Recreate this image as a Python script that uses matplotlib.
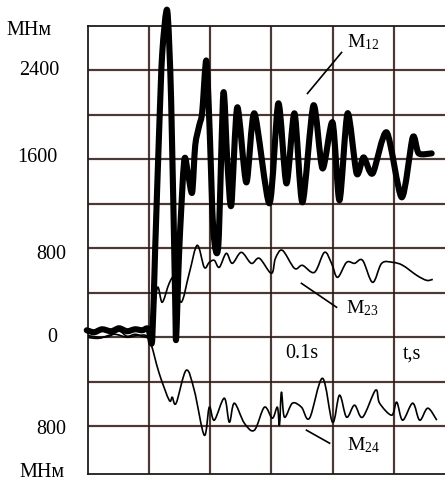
import matplotlib
matplotlib.use("Agg")
import matplotlib.pyplot as plt
import numpy as np
from matplotlib.path import Path
from matplotlib.patches import PathPatch

plt.rcParams['font.family'] = ['Liberation Serif', 'DejaVu Serif']
plt.rcParams['mathtext.fontset'] = 'custom'
plt.rcParams['mathtext.rm'] = 'Liberation Serif'
plt.rcParams['mathtext.it'] = 'Liberation Serif'

# ── Data (time in s, torque in MNm) ──────────────────────────────────────────
t12 = [-0.051, -0.045, -0.0385, -0.031, -0.0246, -0.018, -0.0115, -0.0057, -0.0016,
       0.0, 0.0025, 0.0049, 0.0082, 0.0107, 0.0148, 0.018, 0.0213, 0.0221, 0.0246,
       0.0287, 0.032, 0.0352, 0.0377, 0.041, 0.0434, 0.0467, 0.0492, 0.0525, 0.0566,
       0.0607, 0.0639, 0.0672, 0.0721, 0.0795, 0.0861, 0.0984, 0.1057, 0.1123, 0.1189,
       0.1254, 0.1344, 0.1418, 0.15, 0.1557, 0.1623, 0.1697, 0.1754, 0.1828, 0.1943,
       0.2066, 0.2156, 0.2205, 0.2311]
m12 = [63, 45, 72, 54, 81, 54, 72, 63, 81,
       54, -27, 782, 1861, 2553, 2940, 2131, 333, -9, 782,
       1591, 1456, 1303, 1726, 1906, 2023, 2490, 1951, 962, 827,
       2193, 1591, 1187, 2068, 1393, 2014, 1205, 2104, 1384, 2014,
       1214, 2086, 1519, 1933, 1232, 2014, 1474, 1618, 1474, 1843,
       1259, 1798, 1654, 1654]

t23 = [-0.051, -0.041, -0.0328, -0.0246, -0.018, -0.0115, -0.0057, 0.0, 0.0016,
       0.0066, 0.0107, 0.0164, 0.0205, 0.0262, 0.0328, 0.0393, 0.0451, 0.0492,
       0.0533, 0.0574, 0.0631, 0.068, 0.0754, 0.0836, 0.0902, 0.1, 0.1033, 0.109,
       0.1189, 0.1254, 0.1352, 0.1434, 0.1492, 0.1541, 0.1615, 0.168, 0.1746,
       0.1828, 0.1902, 0.1992, 0.2074, 0.2189, 0.227, 0.232]
m23 = [18, 0, 9, 54, 9, 27, 9, -9, -27,
       441, 315, 485, 530, 315, 575, 827, 629, 674,
       692, 629, 755, 665, 764, 665, 710, 575, 710, 782,
       620, 647, 584, 764, 665, 539, 674, 665, 692,
       494, 665, 674, 647, 557, 512, 521]

t24 = [-0.051, -0.041, -0.0287, -0.018, -0.0082, 0.0, 0.0082, 0.0164, 0.0189,
       0.0221, 0.0303, 0.0369, 0.0451, 0.0492, 0.0533, 0.0615, 0.0656, 0.0697,
       0.0779, 0.0861, 0.0943, 0.1008, 0.1049, 0.1066, 0.1082, 0.1107, 0.1172,
       0.1246, 0.1312, 0.1418, 0.15, 0.1557, 0.1615, 0.168, 0.1746, 0.1852,
       0.1885, 0.1984, 0.2025, 0.2074, 0.2156, 0.2213, 0.2279, 0.2353]
m24 = [0, -9, 27, 0, 18, -18, -324, -566, -539,
       -593, -297, -476, -881, -629, -746, -548, -764, -593,
       -773, -836, -629, -728, -629, -791, -494, -719, -593,
       -629, -728, -369, -764, -521, -719, -611, -719, -476,
       -593, -701, -584, -746, -593, -746, -638, -746]

x_grid = [0.0, 0.05, 0.1, 0.15, 0.2]
y_grid = [-800, -400, 0, 400, 800, 1200, 1600, 2000, 2400]
y_labels = ["2400", "1600", "800", "0", "800"]


def smooth_path(t, m, k=1.0):
    """Smooth curve through the read points (Catmull-Rom as Bezier segments)."""
    p = np.column_stack([np.asarray(t) / 0.05, np.asarray(m) / 400.0])
    verts, codes = [p[0]], [Path.MOVETO]
    n = len(p)
    for i in range(n - 1):
        p0 = p[max(i - 1, 0)]; p1 = p[i]; p2 = p[i + 1]; p3 = p[min(i + 2, n - 1)]
        c1 = p1 + (p2 - p0) * k / 6.0
        c2 = p2 - (p3 - p1) * k / 6.0
        verts += [c1, c2, p2]
        codes += [Path.CURVE4] * 3
    v = np.array(verts)
    v[:, 0] *= 0.05; v[:, 1] *= 400.0
    return Path(v, codes)


# ── Figure ───────────────────────────────────────────────────────────────────
fig = plt.figure(figsize=(4.45, 4.83), dpi=100)
ax = fig.add_axes([88 / 445, 9 / 483, 1 - 88 / 445, 448 / 483])
ax.set_xlim(-0.05, 0.242)
ax.set_ylim(-1230, 2800)
ax.set_xticks([]); ax.set_yticks([])
grid_c = "#1f1b1b"
for s in ["left", "top", "bottom"]:
    ax.spines[s].set_color(grid_c)
    ax.spines[s].set_linewidth(1.3)
ax.spines["right"].set_visible(False)

for xv in x_grid:
    ax.axvline(xv, color="#f8e2dd", lw=2.6, zorder=0)
    ax.axvline(xv, color=grid_c, lw=1.2, zorder=1)
for yv in y_grid:
    ax.axhline(yv, color="#f8e2dd", lw=2.6, zorder=0)
    ax.axhline(yv, color=grid_c, lw=1.2, zorder=1)

for t, m in [(t23, m23), (t24, m24)]:
    ax.add_patch(PathPatch(smooth_path(t, m), facecolor="none", edgecolor="black",
                           lw=1.2, zorder=3, joinstyle="round"))
ax.add_patch(PathPatch(smooth_path(t12, m12, k=0.8), facecolor="none", edgecolor="black",
                       lw=4.4, zorder=4, clip_on=False, joinstyle="round", capstyle="round"))

# leader lines + curve labels
ax.plot([0.1295, 0.1574], [2193, 2562], color="black", lw=1.2, zorder=5)
ax.plot([0.1246, 0.1533], [485, 270], color="black", lw=1.2, zorder=5)
ax.plot([0.1287, 0.1476], [-836, -953], color="black", lw=1.2, zorder=5)
ax.text(0.1615, 2652, "M$_{12}$", fontsize=14, ha="left", va="center")
ax.text(0.1607, 261, "M$_{23}$", fontsize=14, ha="left", va="center")
ax.text(0.1615, -971, "M$_{24}$", fontsize=14, ha="left", va="center")
ax.text(0.1246, -150, "0.1s", fontsize=14.5, ha="center", va="center")
ax.text(0.2148, -150, "t,s", fontsize=14.5, ha="center", va="center")

# y labels (outside the frame)
label_x = [-0.0902, -0.0918, -0.0804, -0.0795, -0.0804]
label_y = [2400, 1620, 746, 0, -827]
for lx, ly, txt in zip(label_x, label_y, y_labels):
    ax.text(lx, ly, txt, fontsize=14.5, ha="center", va="center", clip_on=False)
ax.text(-0.0984, 2760, "МНм", fontsize=14.5, ha="center", va="center", clip_on=False)
ax.text(-0.0877, -1214, "МНм", fontsize=14.5, ha="center", va="center", clip_on=False)

fig.savefig("out.png", dpi=100)
